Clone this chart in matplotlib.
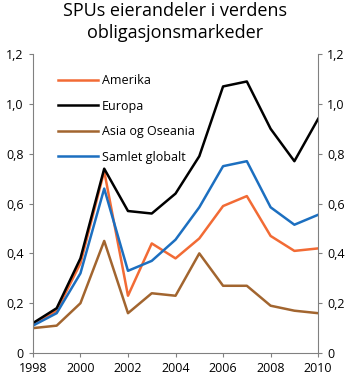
import matplotlib.pyplot as plt

plt.rcParams['font.family'] = ['Open Sans', 'DejaVu Sans']

years = list(range(1998, 2011))
amerika = [0.115, 0.17, 0.36, 0.73, 0.23, 0.44, 0.38, 0.46, 0.59, 0.63, 0.47, 0.41, 0.42]
europa = [0.12, 0.18, 0.38, 0.74, 0.57, 0.56, 0.64, 0.79, 1.07, 1.09, 0.90, 0.77, 0.94]
asia = [0.10, 0.11, 0.20, 0.45, 0.16, 0.24, 0.23, 0.40, 0.27, 0.27, 0.19, 0.17, 0.16]
samlet = [0.11, 0.16, 0.32, 0.66, 0.33, 0.37, 0.455, 0.585, 0.75, 0.77, 0.585, 0.515, 0.555]

yticks = [0, 0.2, 0.4, 0.6, 0.8, 1.0, 1.2]
ylabels = ['0', '0,2', '0,4', '0,6', '0,8', '1,0', '1,2']

fig = plt.figure(figsize=(3.5, 3.78), dpi=100)
ax = fig.add_axes([0.094, 0.066, 0.815, 0.791])

ax.plot(years, amerika, color='#f26b35', lw=1.8, label='Amerika')
ax.plot(years, europa, color='black', lw=1.8, label='Europa')
ax.plot(years, asia, color='#a2652f', lw=1.8, label='Asia og Oseania')
ax.plot(years, samlet, color='#1c6fc0', lw=1.8, label='Samlet globalt')

ax.set_xlim(1998, 2010)
ax.set_ylim(0, 1.2)
ax.set_xticks(range(1998, 2011, 2))
ax.set_yticks(yticks)
ax.set_yticklabels(ylabels)
ax.tick_params(labelsize=9, color='#808080', length=3)
ax.tick_params(axis='y', right=True, labelright=True)
for s in ['left', 'right', 'bottom']:
    ax.spines[s].set_color('#808080')
ax.spines['top'].set_visible(False)

ax.legend(loc='upper left', frameon=False, fontsize=9, handlelength=3.2,
          handletextpad=0.3, labelspacing=1.0, bbox_to_anchor=(0.05, 0.97))

fig.suptitle('SPUs eierandeler i verdens\nobligasjonsmarkeder', fontsize=13, y=0.995,
             linespacing=1.3)

fig.savefig('out.png', dpi=100)
